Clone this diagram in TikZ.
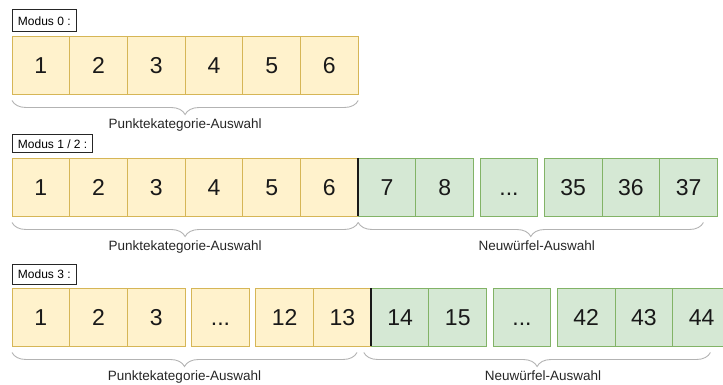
\documentclass[tikz,border=0pt]{standalone}
\usepackage{fontspec}
\setmainfont{Liberation Sans}
\usepackage{xcolor}
\usetikzlibrary{positioning, decorations.pathreplacing}
\definecolor{cellyellow}{HTML}{FFF2CC}
\definecolor{edgeyellow}{HTML}{D6B656}
\definecolor{cellgreen}{HTML}{D5E8D4}
\definecolor{edgegreen}{HTML}{82B366}
\definecolor{bracegray}{HTML}{B3B3B3}
\tikzset{
  cell/.style={
    rectangle, minimum width=57.7pt, minimum height=58pt,
    inner sep=0pt, outer sep=0pt, line width=0.9pt,
    text height=16.5pt, text depth=0pt,
    font=\fontsize{23}{27}\selectfont, text=black!90
  },
  pointcell/.style={cell, fill=cellyellow, draw=edgeyellow},
  rerollcell/.style={cell, fill=cellgreen, draw=edgegreen},
  modebox/.style={
    rectangle, draw=black!85, line width=0.9pt, fill=white,
    inner xsep=5.5pt, inner ysep=0pt, minimum height=20pt,
    font=\fontsize{12}{14}\selectfont
  },
  divider/.style={line width=2pt, black!90},
  bracket/.style={decorate, decoration={brace, mirror, amplitude=14pt},
                  line width=0.9pt, bracegray},
  bracelabel/.style={font=\fontsize{13.5}{16}\selectfont, text=black!85,
                     inner sep=0pt}
}

\begin{document}
\begin{tikzpicture}[x=1pt, y=-1pt]

  \useasboundingbox (0,0) rectangle (723,385);
  \clip (0,0) rectangle (723,385);

  % Modus 0
  \node[pointcell, anchor=north west] (a1) at (12,36) {1};
  \node[pointcell, right=0pt of a1] (a2) {2};
  \node[pointcell, right=0pt of a2] (a3) {3};
  \node[pointcell, right=0pt of a3] (a4) {4};
  \node[pointcell, right=0pt of a4] (a5) {5};
  \node[pointcell, right=0pt of a5] (a6) {6};

  \node[modebox, minimum height=22pt, above right=3.7pt and 0pt of a1.north west]
        (mode0) {Modus 0 :};

  \draw[bracket] ([yshift=-6.5pt]a1.south west) -- ([yshift=-6.5pt]a6.south east)
        node[bracelabel, midway, below=18pt] (pick0) {Punktekategorie-Auswahl};

  % Modus 1 / 2
  \node[pointcell, anchor=north west] (b1) at (12,158) {1};
  \node[pointcell, right=0pt of b1] (b2) {2};
  \node[pointcell, right=0pt of b2] (b3) {3};
  \node[pointcell, right=0pt of b3] (b4) {4};
  \node[pointcell, right=0pt of b4] (b5) {5};
  \node[pointcell, right=0pt of b5] (b6) {6};
  \node[rerollcell, right=0pt of b6]   (b7)  {7};
  \node[rerollcell, right=0pt of b7]   (b8)  {8};
  \node[rerollcell, right=6.5pt of b8] (bdots) {...};
  \node[rerollcell, right=6.5pt of bdots] (b35) {35};
  \node[rerollcell, right=0pt of b35]  (b36) {36};
  \node[rerollcell, right=0pt of b36]  (b37) {37};
  \draw[divider] (b6.north east) -- (b6.south east);

  \node[modebox, minimum height=18pt, above right=4.7pt and 0pt of b1.north west]
        (mode12) {Modus 1 / 2 :};

  \draw[bracket] ([yshift=-6.5pt]b1.south west) -- ([yshift=-6.5pt]b6.south east)
        node[bracelabel, midway, below=18pt] (pick12) {Punktekategorie-Auswahl};
  \draw[bracket] ([yshift=-6.5pt]b7.south west) -- ([xshift=-14pt, yshift=-6.5pt]b37.south east)
        node[bracelabel, midway, below=18pt, xshift=6pt] (reroll12) {Neuwürfel-Auswahl};

  % Modus 3
  \node[pointcell, anchor=north west] (c1) at (12,288) {1};
  \node[pointcell, right=0pt of c1]   (c2)  {2};
  \node[pointcell, right=0pt of c2]   (c3)  {3};
  \node[pointcell, right=6.5pt of c3] (cdots) {...};
  \node[pointcell, right=6.5pt of cdots] (c12) {12};
  \node[pointcell, right=0pt of c12]  (c13) {13};
  \node[rerollcell, right=0pt of c13]  (c14) {14};
  \node[rerollcell, right=0pt of c14]  (c15) {15};
  \node[rerollcell, right=6.5pt of c15] (cdots2) {...};
  \node[rerollcell, right=6.5pt of cdots2] (c42) {42};
  \node[rerollcell, right=0pt of c42]  (c43) {43};
  \node[rerollcell, right=0pt of c43]  (c44) {44};
  \draw[divider] (c13.north east) -- (c13.south east);

  \node[modebox, minimum height=20pt, above right=3.3pt and 0pt of c1.north west]
        (mode3) {Modus 3 :};

  \draw[bracket] ([yshift=-6.5pt]c1.south west) -- ([xshift=-14.2pt, yshift=-6.5pt]c13.south east)
        node[bracelabel, midway, below=18pt] (pick3) {Punktekategorie-Auswahl};
  \draw[bracket] ([xshift=-7.4pt, yshift=-6.5pt]c14.south west) -- ([xshift=-20pt, yshift=-6.5pt]c44.south east)
        node[bracelabel, midway, below=18pt, xshift=6pt] (reroll3) {Neuwürfel-Auswahl};

\end{tikzpicture}
\end{document}
